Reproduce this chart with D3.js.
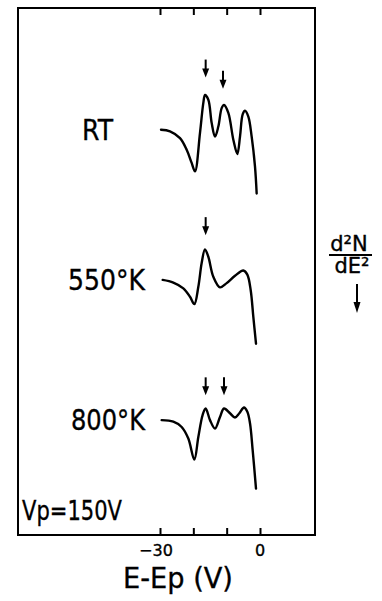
<!DOCTYPE html>
<html>
<head>
<meta charset="utf-8">
<script src="https://cdn.jsdelivr.net/npm/d3@7/dist/d3.min.js"></script>
<style>
  html, body { margin: 0; padding: 0; background: #fff; }
  svg { display: block; }
  text { font-family: "DejaVu Sans", sans-serif; fill: #000; stroke: #000; stroke-width: 0.35; }
</style>
</head>
<body>
<script>
// ---------- data ----------
const tickValues = [-30, -20, -10, 0];
const tickLabelValues = [-30, 0];
const tickLabels = ["−30", "0"];

const curveNames = ["RT", "550°K", "800°K"];
const curveOffsets = [76.9, 48.4, 21.8]; // arbitrary units (d²N/dE²)

const rtEnergy = [-29.7, -27, -24, -22, -20.5, -19.5, -18, -17, -16.5, -15.5, -14.5, -13.5, -12.5, -11.5, -10.8, -9.5, -8, -6.8, -6, -5.2, -4.5, -3.5, -2.5, -1.5, -1];
const rtSignal = [0, -0.3, -1.6, -3.8, -6.3, -7.9, -0.6, 5.1, 6.6, 5.7, 1.3, -1.3, 0.6, 4.1, 4.7, 3.2, -1.9, -4.6, -1.3, 2.9, 3.6, 2.5, -1.3, -7.0, -12.1];

const k550Energy = [-29.2, -26, -23, -21, -19.7, -18.5, -17.5, -16.5, -15.5, -14, -12, -10, -7.5, -5, -3.8, -2.8, -2, -1.2];
const k550Signal = [0, -0.5, -1.6, -3.2, -4.6, -1.3, 3.2, 5.8, 4.4, 0.6, -1.4, -0.6, 0.8, 1.8, 1.0, -1.9, -7.0, -12.1];

const k800Energy = [-29.5, -26, -23.5, -21.5, -19.7, -18.5, -17.2, -16.3, -15, -13.5, -12, -10.8, -9, -7.5, -6.2, -4.8, -3.8, -3, -2.2, -1.2];
const k800Signal = [0, -0.3, -1.3, -3.5, -7.5, -3.2, 1.0, 2.2, 0, -1.6, 0.6, 2.2, 1.3, 0.5, 1.3, 2.4, 1.6, -0.6, -5.7, -13.0];

// arrows: energy and tip height (relative to curve baseline)
const rtArrowEnergy = [-16.3, -11.1];
const rtArrowTip = [9.9, 7.8];
const k550ArrowEnergy = [-16.3];
const k550ArrowTip = [8.5];
const k800ArrowEnergy = [-16.3, -10.8];
const k800ArrowTip = [4.7, 4.7];

// ---------- layout ----------
const W = 382, H = 601;
const frame = { left: 18, top: 8, right: 315, bottom: 535 };

const svg = d3.select("body").append("svg").attr("width", W).attr("height", H);

const x = d3.scaleLinear().domain([-30, 0]).range([160, 260]);
const y = d3.scaleLinear().domain([0, 100]).range([frame.bottom, frame.top]);

// frame
svg.append("rect")
  .attr("x", frame.left).attr("y", frame.top)
  .attr("width", frame.right - frame.left).attr("height", frame.bottom - frame.top)
  .attr("fill", "none").attr("stroke", "#000").attr("stroke-width", 2);

// bottom / top axes (ticks inward)
const bottomAxis = d3.axisBottom(x).tickValues(tickValues).tickSize(-7).tickFormat("");
const gb = svg.append("g").attr("transform", `translate(0,${frame.bottom})`).call(bottomAxis);
gb.select(".domain").remove();
gb.selectAll(".tick line").attr("stroke", "#000").attr("stroke-width", 2);

const topAxis = d3.axisTop(x).tickValues(tickValues).tickSize(-7).tickFormat("");
const gt = svg.append("g").attr("transform", `translate(0,${frame.top})`).call(topAxis);
gt.select(".domain").remove();
gt.selectAll(".tick line").attr("stroke", "#000").attr("stroke-width", 2);

// tick labels
svg.selectAll(".tlab").data(tickLabelValues).enter().append("text")
  .attr("class", "tlab")
  .attr("x", (d, i) => x(d) - (i === 0 ? 4 : 0))
  .attr("y", 556)
  .attr("text-anchor", "middle")
  .attr("font-size", 16)
  .text((d, i) => tickLabels[i]);

// axis title
svg.append("text").attr("x", 123).attr("y", 588).attr("font-size", 28)
  .attr("textLength", 110).attr("lengthAdjust", "spacingAndGlyphs")
  .text("E-Ep (V)");

// curves
const line = d3.line().x(d => x(d[0])).y(d => y(d[1])).curve(d3.curveCatmullRom.alpha(0.5));
const series = [
  { e: rtEnergy, s: rtSignal, ae: rtArrowEnergy, at: rtArrowTip },
  { e: k550Energy, s: k550Signal, ae: k550ArrowEnergy, at: k550ArrowTip },
  { e: k800Energy, s: k800Signal, ae: k800ArrowEnergy, at: k800ArrowTip }
];
series.forEach((ser, i) => {
  const pts = ser.e.map((e, j) => [e, ser.s[j] + curveOffsets[i]]);
  svg.append("path").datum(pts).attr("d", line)
    .attr("fill", "none").attr("stroke", "#000").attr("stroke-width", 2.4)
    .attr("stroke-linejoin", "round").attr("stroke-linecap", "round");
  ser.ae.forEach((e, j) => {
    const ax = x(e), ty = y(ser.at[j] + curveOffsets[i]);
    svg.append("line").attr("x1", ax).attr("x2", ax).attr("y1", ty - 18).attr("y2", ty - 6)
      .attr("stroke", "#000").attr("stroke-width", 2);
    svg.append("path").attr("d", `M${ax - 3.5},${ty - 9} L${ax + 3.5},${ty - 9} L${ax},${ty} Z`)
      .attr("fill", "#000");
  });
});

// curve labels
const labelX = [82, 68, 71];
const labelLen = [31, 77, 74];
curveNames.forEach((n, i) => {
  svg.append("text").attr("x", labelX[i]).attr("y", y(curveOffsets[i]) + 10)
    .attr("font-size", 29)
    .attr("textLength", labelLen[i]).attr("lengthAdjust", "spacingAndGlyphs")
    .text(n);
});

// Vp label
svg.append("text").attr("x", 22).attr("y", 520).attr("font-size", 27)
  .attr("textLength", 100).attr("lengthAdjust", "spacingAndGlyphs")
  .text("Vp=150V");

// d²N/dE² label with arrow
const yl = svg.append("g");
yl.append("text").attr("x", 349).attr("y", 251).attr("font-size", 21).attr("text-anchor", "middle")
  .text("d²N");
yl.append("line").attr("x1", 329).attr("x2", 372).attr("y1", 255).attr("y2", 255)
  .attr("stroke", "#000").attr("stroke-width", 1.8);
yl.append("text").attr("x", 352).attr("y", 273).attr("font-size", 21).attr("text-anchor", "middle")
  .text("dE²");
yl.append("line").attr("x1", 357).attr("x2", 357).attr("y1", 284).attr("y2", 305)
  .attr("stroke", "#000").attr("stroke-width", 2);
yl.append("path").attr("d", "M353.5,302 L360.5,302 L357,313 Z").attr("fill", "#000");
</script>
</body>
</html>
